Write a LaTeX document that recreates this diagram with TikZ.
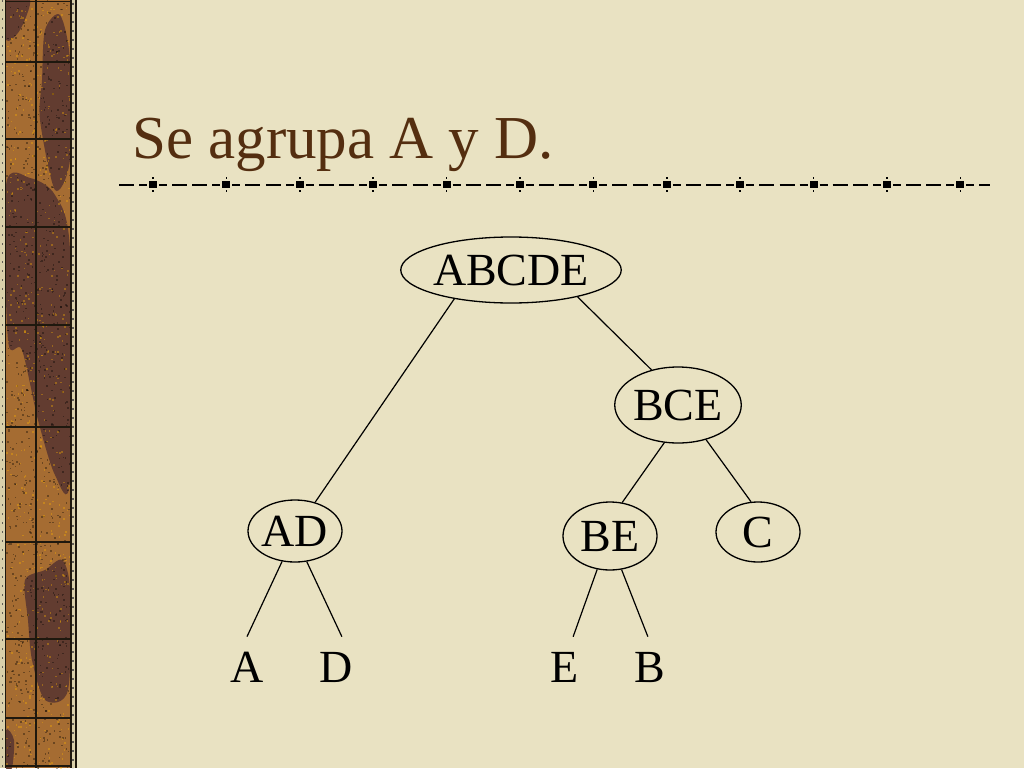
\documentclass[tikz,border=0pt]{standalone}
\usepackage{fontspec}
\setmainfont{Liberation Serif}
\usetikzlibrary{shapes.geometric}
\definecolor{paper}{RGB}{233,226,194}
\definecolor{titlebrown}{RGB}{84,46,16}
\definecolor{woodlight}{RGB}{165,108,50}
\definecolor{wooddark}{RGB}{98,60,48}
\definecolor{stripe}{RGB}{218,208,170}
\definecolor{framedark}{RGB}{30,24,14}
\tikzset{
  tnode/.style={draw, line width=1.3pt, ellipse, inner sep=0pt, font=\fontsize{46}{55}\selectfont},
  leaf/.style={inner xsep=0pt, inner ysep=15pt, font=\fontsize{46}{55}\selectfont},
  edge/.style={line width=1.2pt},
  frameline/.style={framedark, line width=1.2pt}
}
\begin{document}
\begin{tikzpicture}[x=1pt,y=-1pt]
\useasboundingbox (0,0) rectangle (1024,768);
\fill[paper] (0,0) rectangle (1024,768);
% left wooden strip
\fill[woodlight] (6,0) rectangle (70,768);
\begin{scope}
\clip (6,0) rectangle (70,768);
\fill[wooddark] plot[smooth cycle] coordinates {(45,30) (60,15) (70,60) (70,160) (55,190) (40,120) (42,80)};
\fill[wooddark] plot[smooth cycle] coordinates {(6,185) (30,178) (55,195) (70,250) (70,480) (55,475) (38,420) (22,350) (8,340)};
\fill[wooddark] plot[smooth cycle] coordinates {(6,200) (20,280) (10,300) (6,300)};
\fill[wooddark] plot[smooth cycle] coordinates {(25,580) (45,570) (62,560) (70,590) (68,690) (45,700) (32,660) (28,620)};
\fill[wooddark] plot[smooth cycle] coordinates {(6,730) (14,740) (12,768) (6,768)};
\fill[wooddark] plot[smooth cycle] coordinates {(6,0) (30,0) (20,30) (6,40)};
\pgfmathsetseed{7}
\foreach \k in {1,...,900} {
  \pgfmathsetmacro{\px}{6+64*rnd}
  \pgfmathsetmacro{\py}{768*rnd}
  \fill[black, opacity=0.35] (\px,\py) rectangle ++(1.6,1.6);
}
\foreach \k in {1,...,600} {
  \pgfmathsetmacro{\px}{6+64*rnd}
  \pgfmathsetmacro{\py}{768*rnd}
  \fill[orange!60!yellow, opacity=0.35] (\px,\py) rectangle ++(1.6,1.6);
}
\end{scope}
\fill[stripe] (0,0) rectangle (5,768);
\fill[stripe] (71.5,0) rectangle (75,768);
\draw[framedark!70, line width=1.5pt, dash pattern=on 2pt off 7pt] (2.5,0) -- (2.5,768);
\draw[framedark!70, line width=1.5pt, dash pattern=on 2pt off 7pt] (73.2,3) -- (73.2,768);
\draw[frameline, line width=1.5pt] (5.5,0) -- (5.5,768);
\draw[frameline, line width=1.5pt] (70.8,0) -- (70.8,768);
\draw[frameline, line width=1.5pt] (76,0) -- (76,768);
\draw[frameline] (5.5,1.5) -- (70.8,1.5);
\draw[frameline] (36,0) -- (36,768);
\foreach \yy in {62,139,227,325,427,542,639,718} \draw[frameline] (5.5,\yy) -- (70.8,\yy);
\draw[frameline] (5.5,766) -- (70.8,766);
% title
\node[anchor=base west, inner sep=0pt, text=titlebrown, font=\fontsize{61}{72}\selectfont] (title) at (132,158) {Se agrupa A y D.};
% decorative rule
\draw[black, line width=2pt, dash pattern=on 8pt off 5pt on 15pt off 5.4pt on 15pt off 5pt on 8pt off 12pt, dash phase=33.4pt] (119,184.5) -- (990,184.5);
\foreach \i in {0,...,11} {
  \fill[black] ({153+73.4*\i-4},180.8) rectangle ({153+73.4*\i+4},188.2);
  \fill[black] ({153+73.4*\i-0.8},177) rectangle ({153+73.4*\i+0.8},178.6);
  \fill[black] ({153+73.4*\i-0.8},190.4) rectangle ({153+73.4*\i+0.8},192);
}
% tree
\node[tnode, minimum width=206pt, minimum height=66pt] (abcde) at (511,270) {ABCDE};
\node[tnode, minimum width=110pt, minimum height=76pt] (bce) at (678,405) {BCE};
\node[tnode, minimum width=94pt, minimum height=68pt] (be) at (610,536) {BE};
\node[tnode, minimum width=84pt, minimum height=60pt] (c) at (758,532) {C};
\node[tnode, minimum width=94pt, minimum height=62pt] (ad) at (295,531) {AD};
\node[leaf] (a) at (247,667) {A};
\node[leaf] (d) at (336,667) {D};
\node[leaf] (e) at (565,667) {E};
\node[leaf] (b) at (650,667) {B};
\draw[edge] (abcde.207) -- (ad.55);
\draw[edge] (abcde.338) -- (bce.127);
\draw[edge] (bce.250) -- (be.70);
\draw[edge] (bce.309) -- (c.103);
\draw[edge] (ad.247) -- (a.north);
\draw[edge] (ad.291) -- (d.79);
\draw[edge] (be.249) -- (e.75);
\draw[edge] (be.289) -- (b.94);
\end{tikzpicture}
\end{document}
